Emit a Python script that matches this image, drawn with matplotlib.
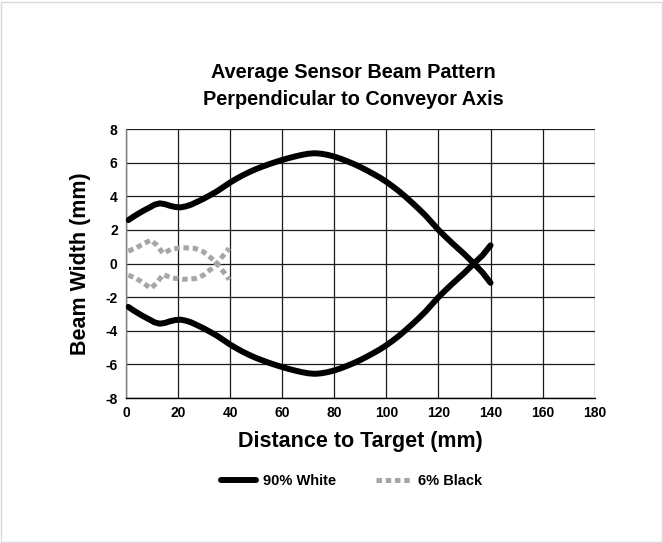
import matplotlib
matplotlib.use("Agg")
import matplotlib.pyplot as plt
from matplotlib.lines import Line2D
from matplotlib.patches import Rectangle

plt.rcParams['font.family'] = ['Liberation Sans', 'DejaVu Sans']
plt.rcParams['font.weight'] = 'bold'
plt.rcParams['axes.unicode_minus'] = False

# 90% White target: upper and lower beam edge
white_x = [0.9, 3, 6, 9, 11, 13, 15, 17, 19, 21, 23, 25, 27.5, 30, 32.5, 35, 37.5, 40,
           42.5, 45, 47.5, 50, 52.5, 55, 57.5, 60, 62.5, 65, 67.5, 70, 72.5, 75, 77.5,
           80, 82.5, 85, 87.5, 90, 92.5, 95, 97.5, 100, 102.5, 105, 107.5, 110, 112.5,
           115, 117.5, 120, 122.5, 125, 127.5, 130, 133.6, 137, 140]
white_upper = [2.58, 2.8, 3.08, 3.33, 3.5, 3.58, 3.53, 3.43, 3.36, 3.34, 3.4, 3.5, 3.68,
               3.87, 4.08, 4.3, 4.56, 4.82, 5.05, 5.26, 5.45, 5.62, 5.77, 5.91, 6.04,
               6.16, 6.27, 6.37, 6.46, 6.53, 6.56, 6.53, 6.46, 6.36, 6.23, 6.08, 5.92,
               5.74, 5.54, 5.33, 5.11, 4.86, 4.58, 4.28, 3.95, 3.6, 3.24, 2.86, 2.43, 2.0,
               1.62, 1.25, 0.9, 0.55, 0.0, -0.55, -1.15]
white_lower = [-2.58, -2.8, -3.08, -3.33, -3.5, -3.58, -3.53, -3.43, -3.36, -3.34, -3.4,
               -3.5, -3.68, -3.87, -4.08, -4.3, -4.56, -4.82, -5.05, -5.26, -5.45, -5.62,
               -5.77, -5.91, -6.04, -6.16, -6.27, -6.37, -6.46, -6.53, -6.56, -6.53,
               -6.46, -6.36, -6.23, -6.08, -5.92, -5.74, -5.54, -5.33, -5.11, -4.86,
               -4.58, -4.28, -3.95, -3.6, -3.24, -2.86, -2.43, -2.0, -1.62, -1.25, -0.9,
               -0.55, 0.0, 0.5, 1.08]

# 6% Black target
black_x = [0.9, 4.1, 7, 9.6, 11.8, 14.3, 17.5, 22, 26.5, 29.7, 32.9, 35.4, 38, 39.6]
black_upper = [0.74, 0.94, 1.2, 1.39, 1.1, 0.6, 0.86, 0.94, 0.9, 0.7, 0.3, -0.1, -0.6, -0.95]
black_lower = [-0.69, -0.9, -1.2, -1.48, -1.15, -0.65, -0.86, -0.94, -0.9, -0.7, -0.3, 0.1, 0.6, 0.9]

x_ticks = [0, 20, 40, 60, 80, 100, 120, 140, 160, 180]
y_ticks = [-8, -6, -4, -2, 0, 2, 4, 6, 8]

fig = plt.figure(figsize=(6.63, 5.43), dpi=100)
fig.patches.append(Rectangle((0.002, 0.002), 0.996, 0.994, transform=fig.transFigure,
                             fill=False, edgecolor='#d9d9d9', linewidth=1))
ax = fig.add_axes([0.190, 0.267, 0.707, 0.4954])

black_color = '#000000'
gray_color = '#a6a6a6'
gray_style = (0, (1.1, 0.75))

for yy in (white_upper, white_lower):
    ax.plot(white_x, yy, color=black_color, lw=4.3, solid_capstyle='round',
            solid_joinstyle='round', zorder=3)
for yy in (black_upper, black_lower):
    ax.plot(black_x, yy, color=gray_color, lw=3.6, linestyle=gray_style,
            dash_capstyle='butt', zorder=3)

ax.set_xlim(0, 180)
ax.set_ylim(-8, 8)
ax.set_xticks(x_ticks)
ax.set_yticks(y_ticks)
ax.grid(True, color='#1a1a1a', lw=0.9)
ax.set_axisbelow(True)
ax.tick_params(length=0, labelsize=10, pad=6)
for lbl in ax.get_xticklabels() + ax.get_yticklabels():
    lbl.set_fontweight('bold')
for s in ['top', 'right']:
    ax.spines[s].set_visible(False)
ax.spines['left'].set_color('#7f7f7f')
ax.spines['left'].set_linewidth(1.0)
ax.spines['bottom'].set_color('#000000')
ax.spines['bottom'].set_linewidth(1.0)

ax.set_xlabel('Distance to Target (mm)', fontsize=15.5, fontweight='bold', labelpad=8)
ax.set_ylabel('Beam Width (mm)', fontsize=15.5, fontweight='bold', labelpad=10)
fig.text(0.533, 0.841, 'Average Sensor Beam Pattern\nPerpendicular to Conveyor Axis',
         ha='center', va='center', fontsize=14.3, fontweight='bold', linespacing=1.55)

handles = [Line2D([], [], color=black_color, lw=4.3, solid_capstyle='round'),
           Line2D([], [], color=gray_color, lw=3.6, linestyle=gray_style)]
fig.legend(handles, ['90% White', '6% Black'], loc='center', ncol=2,
           bbox_to_anchor=(0.53, 0.114), frameon=False, fontsize=10.5,
           handlelength=2.4, columnspacing=2.7, handletextpad=0.5)

fig.savefig('out.png', dpi=100)
